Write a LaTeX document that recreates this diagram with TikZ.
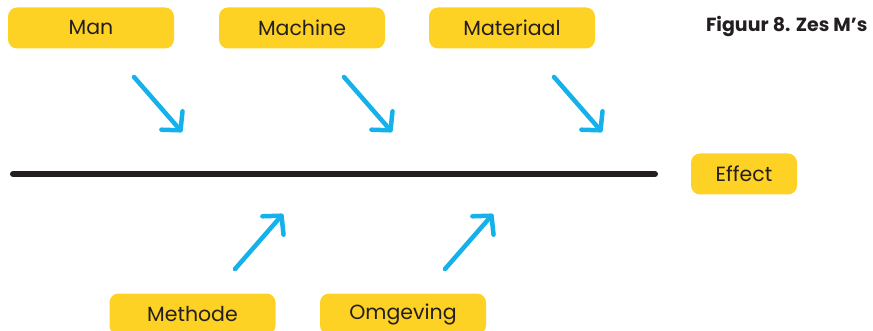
\documentclass[tikz,border=0pt]{standalone}
\usepackage{fontspec}
\setmainfont{Poppins}
\usetikzlibrary{arrows.meta}
\definecolor{geel}{HTML}{FED125}
\definecolor{blauw}{HTML}{15B1EB}
\definecolor{zwart}{HTML}{231F20}
\def\pijl#1#2#3{\coordinate (#1s) at (#2); \coordinate (#1e) at (#3); \draw[pijl] (#1s) -- (#1e)}
\tikzstyle{mbox}=[fill=geel,rounded corners=9pt,minimum width=166pt,minimum height=41pt,inner sep=0pt,text=zwart,font=\fontsize{20.5}{20.5}\selectfont]
\tikzstyle{pijl}=[blauw,line width=4.5pt,line cap=round,-{Straight Barb[length=13pt,width=28pt,line cap=round,line join=round]}]
\tikzstyle{vis}=[zwart,line width=6pt,line cap=round]

\begin{document}
\begin{tikzpicture}[x=1pt,y=-1pt]
    \useasboundingbox (0,0) rectangle (873,331);
    \clip (0,0) rectangle (873,331);
    % de zes M's
    \node[mbox] (man) at (91,28) {Man};
    \node[mbox] (machine) at (302,28) {Machine};
    \node[mbox] (materiaal) at (512,28) {Materiaal};
    \node[mbox] (methode) at (192.5,314) {Methode};
    \node[mbox] (omgeving) at (403,314) {Omgeving};
    \node[mbox,minimum width=106pt] (effect) at (744,174) {Effect};
    \node[anchor=east,text=zwart,font=\bfseries\fontsize{19}{19}\selectfont] (titel) at (871,27) {Figuur 8. Zes M’s};
    % graat
    \coordinate (kop) at (13,174);
    \coordinate (staart) at (655,174);
    \draw[vis] (kop) -- (staart);
    % pijlen
    \pijl{a}{134,77}{182,132};
    \pijl{b}{344,77}{392,132};
    \pijl{c}{554,77}{602,132};
    \pijl{d}{235,269}{283,214};
    \pijl{e}{445,269}{493,214};
  \end{tikzpicture}
\end{document}
